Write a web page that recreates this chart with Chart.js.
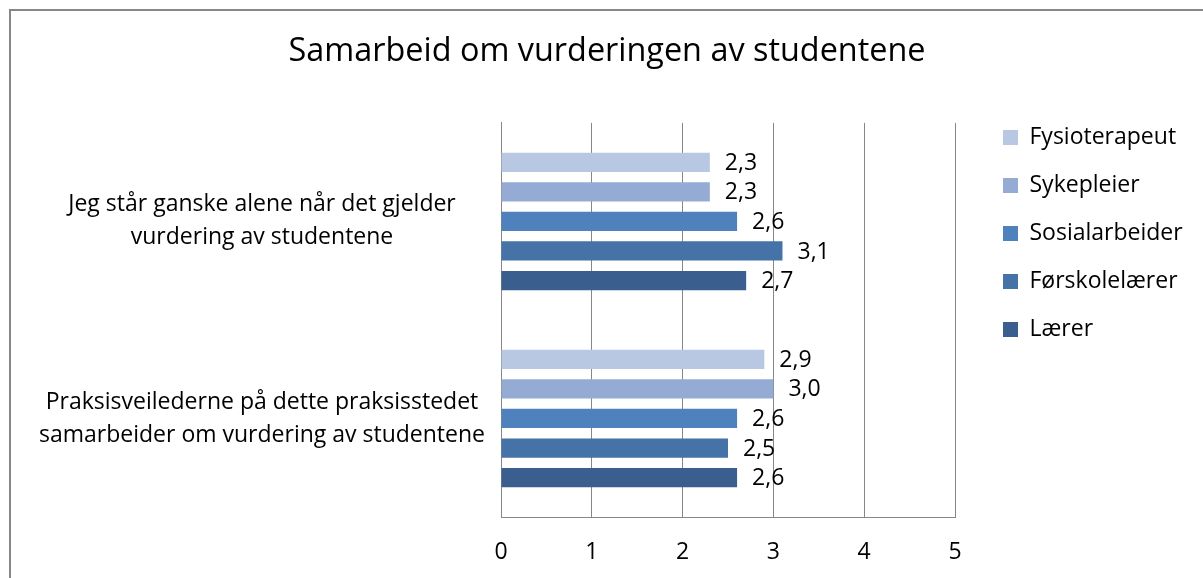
<!DOCTYPE html>
<html>
<head>
<meta charset="utf-8">
<script src="https://cdn.jsdelivr.net/npm/chart.js@4/dist/chart.umd.min.js"></script>
<style>
  html, body { margin: 0; padding: 0; background: #fff; overflow: hidden; }
  #wrap { position: relative; width: 1203px; height: 578px; }
  #frame { position: absolute; left: 9px; top: 9px; width: 1300px; height: 700px; border: 2px solid #878787; box-sizing: border-box; pointer-events: none; }
  canvas { position: absolute; left: 0; top: 0; }
</style>
</head>
<body>
<div id="wrap">
  <canvas id="c" width="1203" height="578"></canvas>
  <div id="frame"></div>
</div>
<script>
const title = 'Samarbeid om vurderingen av studentene';
const categories = [
  ['Jeg står ganske alene når det gjelder', 'vurdering av studentene'],
  ['Praksisveilederne på dette praksisstedet', 'samarbeider om vurdering av studentene']
];
const seriesNames = ['Fysioterapeut', 'Sykepleier', 'Sosialarbeider', 'Førskolelærer', 'Lærer'];
const fysioterapeut = [2.3, 2.9];
const sykepleier = [2.3, 3.0];
const sosialarbeider = [2.6, 2.6];
const forskolelaerer = [3.1, 2.5];
const laerer = [2.7, 2.6];
const xTicks = [0, 1, 2, 3, 4, 5];
const seriesColors = ['#B9C8E2', '#95ABD3', '#4F81BD', '#4572A7', '#3A5F8E'];

const seriesValues = [fysioterapeut, sykepleier, sosialarbeider, forskolelaerer, laerer];
const FONT = '"Open Sans", Lato, sans-serif';
const LEGEND_SIZE = 23;
const LEGEND_PAD = 25;
const LEGEND_BOX = 15;
const PLOT_RIGHT = 955;

const valueLabels = {
  id: 'valueLabels',
  afterDatasetsDraw(chart) {
    const ctx = chart.ctx;
    ctx.save();
    ctx.font = '23px ' + FONT;
    ctx.fillStyle = '#000';
    ctx.textAlign = 'left';
    ctx.textBaseline = 'middle';
    chart.data.datasets.forEach((ds, i) => {
      chart.getDatasetMeta(i).data.forEach((bar, j) => {
        const v = ds.data[j];
        ctx.fillText(v.toFixed(1).replace('.', ','), bar.x + 15, bar.y + 1);
      });
    });
    ctx.restore();
  }
};

const blockPlace = {
  id: 'blockPlace',
  afterLayout(chart) {
    const lg = chart.legend;
    const pad = lg.options.labels.padding;
    const dx = 1003 - (lg.left + pad);
    const dy = 126 - (lg.top + pad);
    lg.left += dx; lg.right += dx;
    lg.top += dy; lg.bottom += dy;
    const tb = chart.titleBlock;
    const tdx = 607 - (tb.left + tb.right) / 2;
    tb.left += tdx; tb.right += tdx;
  }
};

function rightPadding(context) {
  const c = context.chart.ctx;
  c.save();
  c.font = LEGEND_SIZE + 'px ' + FONT;
  const w = Math.max(...seriesNames.map(n => c.measureText(n).width));
  c.restore();
  const legendWidth = LEGEND_PAD + LEGEND_BOX + LEGEND_SIZE / 2 + w + 10;
  return Math.max(0, 1203 - PLOT_RIGHT - legendWidth);
}

new Chart(document.getElementById('c'), {
  type: 'bar',
  data: {
    labels: categories,
    datasets: seriesNames.map((name, i) => ({
      label: name,
      data: seriesValues[i],
      backgroundColor: seriesColors[i],
      borderWidth: 0,
      categoryPercentage: 0.75,
      barPercentage: 0.65
    }))
  },
  options: {
    indexAxis: 'y',
    responsive: false,
    animation: false,
    layout: { padding: { left: 0, right: rightPadding, top: 0, bottom: 0 } },
    plugins: {
      title: {
        display: true,
        text: title,
        color: '#000',
        font: { family: FONT, size: 32.4, weight: 'normal', lineHeight: 1.2 },
        padding: { top: 32, bottom: 52 }
      },
      legend: {
        position: 'right',
        align: 'start',
        labels: {
          color: '#000',
          font: { family: FONT, size: LEGEND_SIZE },
          boxWidth: LEGEND_BOX,
          boxHeight: LEGEND_BOX,
          padding: LEGEND_PAD
        }
      },
      tooltip: { enabled: false }
    },
    scales: {
      x: {
        min: 0,
        max: 5,
        afterBuildTicks(scale) { scale.ticks = xTicks.map(v => ({ value: v })); },
        afterFit(scale) { scale.height = 61; },
        grid: { color: '#878787', drawTicks: false, lineWidth: 1 },
        border: { display: true, color: '#878787', width: 1 },
        ticks: { color: '#000', padding: 22, font: { family: FONT, size: 23 } }
      },
      y: {
        afterFit(scale) { scale.width = 501; },
        grid: { display: false, drawTicks: false },
        border: { display: true, color: '#878787', width: 1 },
        ticks: {
          color: '#000',
          crossAlign: 'center',
          padding: 16,
          font: { family: FONT, size: 23, lineHeight: 1.435 }
        }
      }
    }
  },
  plugins: [valueLabels, blockPlace]
});
</script>
</body>
</html>
